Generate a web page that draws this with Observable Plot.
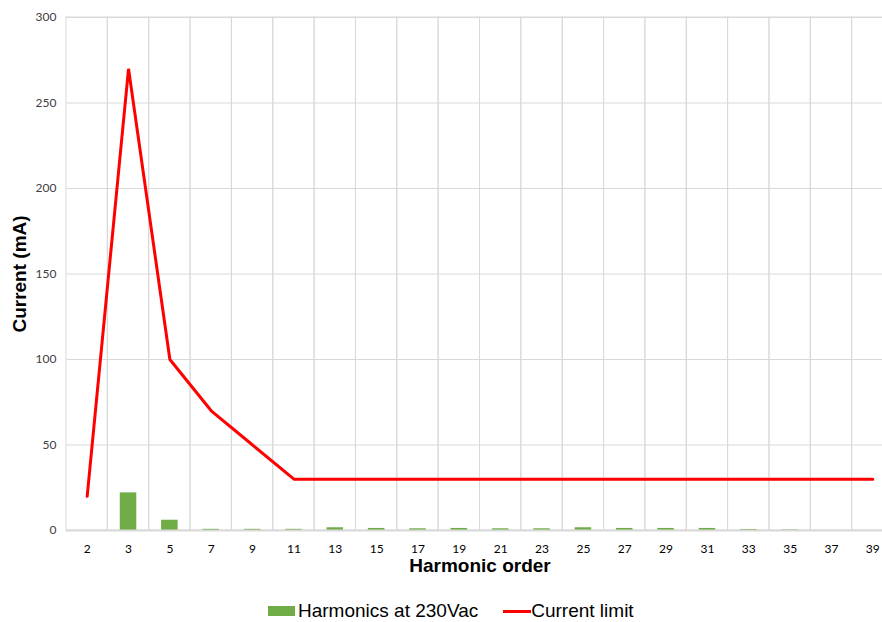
<!DOCTYPE html>
<html>
<head>
<meta charset="utf-8">
<script src="https://cdn.jsdelivr.net/npm/d3@7"></script>
<script src="https://cdn.jsdelivr.net/npm/@observablehq/plot@0.6"></script>
<style>
  html, body { margin: 0; padding: 0; background: #fff; overflow: hidden; width: 882px; height: 622px; }
  #chart { position: relative; width: 882px; height: 622px; overflow: hidden; }
  #chart svg { max-width: none !important; }
  #legend { position: absolute; left: 268px; top: 600px; display: flex; align-items: center;
    font-family: "Liberation Sans", Arial, sans-serif; font-size: 19px; color: #000; white-space: nowrap; }
  .sw-bar { display: inline-block; width: 27px; height: 10px; background: #70AD47; margin-right: 3px; }
  .sw-line { display: inline-block; width: 28px; height: 3px; background: #FF0000; margin-left: 25px; margin-right: 0px; }
</style>
</head>
<body>
<div id="chart"></div>
<script>
const harmonics = ["2","3","5","7","9","11","13","15","17","19","21","23","25","27","29","31","33","35","37","39"];
const harmonicsAt230Vac = [0, 22, 6, 0.7, 0.7, 0.7, 1.6, 1.2, 1.0, 1.2, 1.0, 1.0, 1.6, 1.2, 1.2, 1.2, 0.6, 0.3, 0, 0];
const currentLimit = [20, 270, 100, 70, 50, 30, 30, 30, 30, 30, 30, 30, 30, 30, 30, 30, 30, 30, 30, 30];
const yTicks = [0, 50, 100, 150, 200, 250, 300];
const seriesNames = ["Harmonics at 230Vac", "Current limit"];

const rows = harmonics.map((h, i) => ({h, bar: harmonicsAt230Vac[i], limit: currentLimit[i]}));

const width = 893, marginLeft = 66, marginRight = 0;
const step = (width - marginLeft - marginRight) / harmonics.length;
const barInset = step * 0.3;

const plot = Plot.plot({
  width,
  height: 590,
  marginLeft,
  marginRight,
  marginTop: 17,
  marginBottom: 60,
  style: {fontFamily: "Lato, 'Liberation Sans', sans-serif", fontSize: "12px", color: "#404040", background: "white", overflow: "visible", maxWidth: "none"},
  x: {type: "band", domain: harmonics, padding: 0, round: false, label: null, axis: null},
  y: {domain: [0, 300], label: null, axis: null},
  marks: [
    Plot.gridY(yTicks, {stroke: "#D9D9D9", strokeOpacity: 1, strokeWidth: 1}),
    Plot.barY(harmonics, {x: d => d, y1: 0, y2: 300, fill: "none", stroke: "#D9D9D9", strokeWidth: 1}),
    Plot.barY(rows, {x: "h", y: "bar", fill: "#70AD47", insetLeft: barInset, insetRight: barInset}),
    Plot.ruleY([0], {stroke: "#D9D9D9", strokeWidth: 2}),
    Plot.line(rows, {x: "h", y: "limit", stroke: "#FF0000", strokeWidth: 3, strokeLinejoin: "miter"}),
    Plot.axisY(yTicks, {tickSize: 0, tickPadding: 10, fill: "#404040"}),
    Plot.axisX(harmonics, {tickSize: 0, tickPadding: 14, fill: "#000"}),
    Plot.text(["Harmonic order"], {frameAnchor: "bottom", dy: 41, fontSize: 19, fontWeight: "bold", fontFamily: "'Liberation Sans', Arial, sans-serif", fill: "#000"}),
    Plot.text(["Current (mA)"], {frameAnchor: "left", dx: -47, rotate: -90, textAnchor: "middle", fontSize: 19, fontWeight: "bold", fontFamily: "'Liberation Sans', Arial, sans-serif", fill: "#000"})
  ]
});
document.getElementById("chart").appendChild(plot);

const legend = document.createElement("div");
legend.id = "legend";
legend.innerHTML = `<span class="sw-bar"></span><span>${seriesNames[0]}</span><span class="sw-line"></span><span>${seriesNames[1]}</span>`;
document.getElementById("chart").appendChild(legend);
</script>
</body>
</html>
